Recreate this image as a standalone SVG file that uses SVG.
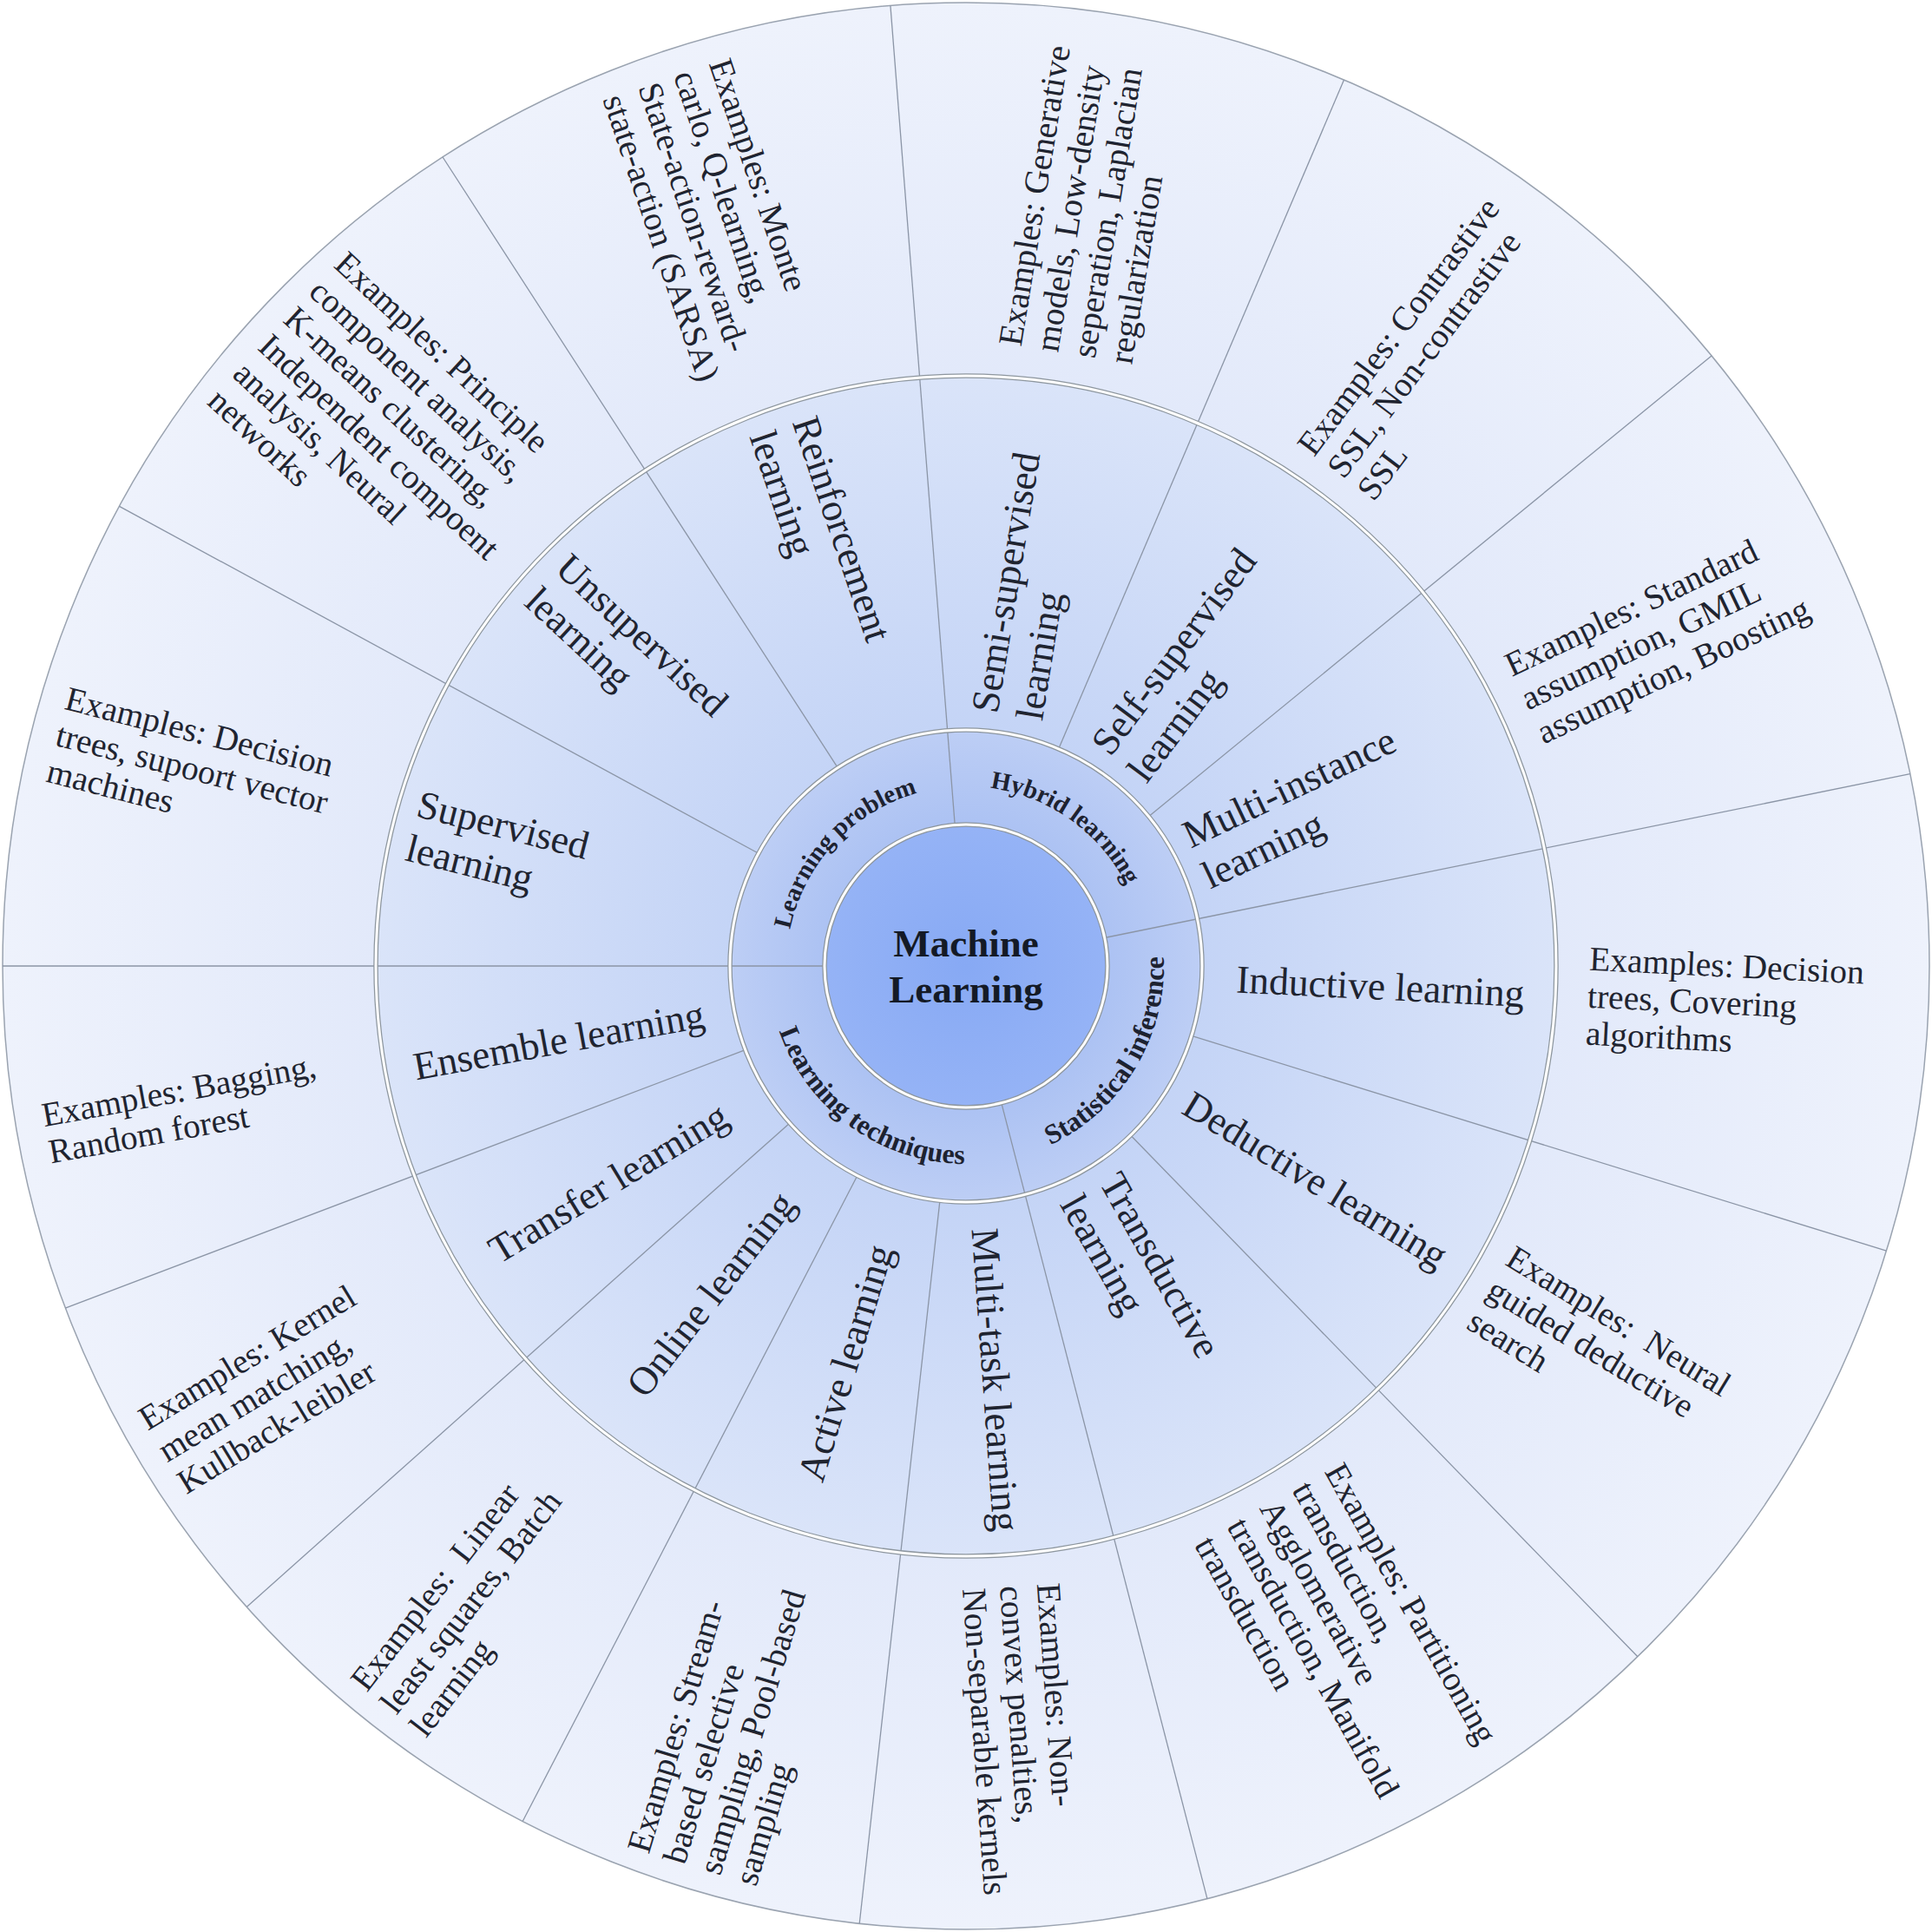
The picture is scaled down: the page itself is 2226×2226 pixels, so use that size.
<svg xmlns="http://www.w3.org/2000/svg" width="2226" height="2226" viewBox="0 0 2226 2226">
<defs>
  <radialGradient id="gOuter" gradientUnits="userSpaceOnUse" cx="1113" cy="1113" r="1110">
    <stop offset="0.61" stop-color="#E2E9FA"/>
    <stop offset="1" stop-color="#EEF2FC"/>
  </radialGradient>
  <radialGradient id="gMid" gradientUnits="userSpaceOnUse" cx="1113" cy="1113" r="680">
    <stop offset="0.4" stop-color="#C4D4F6"/>
    <stop offset="1" stop-color="#DAE4F9"/>
  </radialGradient>
  <radialGradient id="gInner" gradientUnits="userSpaceOnUse" cx="1113" cy="1113" r="272">
    <stop offset="0.6" stop-color="#ACC2F3"/>
    <stop offset="1" stop-color="#BDCEF5"/>
  </radialGradient>
  <radialGradient id="gCore" gradientUnits="userSpaceOnUse" cx="1113" cy="1113" r="163">
    <stop offset="0" stop-color="#87A9F4"/>
    <stop offset="1" stop-color="#95B3F6"/>
  </radialGradient>
  <path id="arcLP" d="M 915.05 1173.52 A 207 207 0 0 1 1159.56 911.31"/>
  <path id="arcHY" d="M 1027.16 924.64 A 207 207 0 0 1 1319.05 1132.84"/>
  <path id="arcSI" d="M 1109.02 1340.97 A 228 228 0 0 0 1312.41 1002.46"/>
  <path id="arcLT" d="M 886.09 1090.75 A 228 228 0 0 0 1207.19 1320.63"/>
</defs>
<style>
  .sep{stroke:#8b95a6;stroke-width:1.3;fill:none}
  .band{fill:none;stroke:#8d969e;stroke-width:5.5}
  .bandw{fill:none;stroke:#ffffff;stroke-width:3}
  .lbl{font-family:"Liberation Serif","Times New Roman",serif;font-size:45.5px;fill:#1f2430}
  .ex{font-family:"Liberation Serif","Times New Roman",serif;font-size:39.5px;fill:#1f2430}
  .cat{font-family:"Liberation Serif","Times New Roman",serif;font-weight:bold;fill:#1d2230}
  .top{font-size:29px}
  .bot{font-size:32px}
  .title{font-family:"Liberation Serif","Times New Roman",serif;font-weight:bold;font-size:45px;fill:#141a26;text-anchor:middle}
  .mid{text-anchor:middle}
</style>
<rect x="0" y="0" width="2226" height="2226" fill="#ffffff"/>

<g id="rings">
  <circle cx="1113" cy="1113" r="1110" fill="url(#gOuter)" stroke="#9aa3b0" stroke-width="1.5"/>
  <circle cx="1113" cy="1113" r="680" fill="url(#gMid)"/>
  <circle cx="1113" cy="1113" r="272" fill="url(#gInner)"/>
  <circle cx="1113" cy="1113" r="163" fill="url(#gCore)"/>
</g>

<g id="connectors">
  <line class="sep" x1="950" y1="1113" x2="3" y2="1113"/>
  <line class="sep" x1="873.96" y1="983.21" x2="137.51" y2="583.35"/>
  <line class="sep" x1="965.26" y1="884.62" x2="510.07" y2="181.02"/>
  <line class="sep" x1="1100.21" y1="950.50" x2="1025.91" y2="6.42"/>
  <line class="sep" x1="1219.72" y1="862.81" x2="1548.50" y2="92.00"/>
  <line class="sep" x1="1323.49" y1="940.72" x2="1971.97" y2="409.94"/>
  <line class="sep" x1="1272.73" y1="1080.50" x2="2200.71" y2="891.70"/>
  <line class="sep" x1="1372.84" y1="1193.43" x2="2173.36" y2="1441.24"/>
  <line class="sep" x1="1302.63" y1="1308.00" x2="1886.86" y2="1908.77"/>
  <line class="sep" x1="1153.81" y1="1270.81" x2="1390.92" y2="2187.65"/>
  <line class="sep" x1="1082.92" y1="1383.33" x2="990.23" y2="2216.20"/>
  <line class="sep" x1="987.83" y1="1354.49" x2="602.19" y2="2098.48"/>
  <line class="sep" x1="909.91" y1="1293.95" x2="284.23" y2="1851.42"/>
  <line class="sep" x1="858.73" y1="1209.59" x2="75.34" y2="1507.17"/>
</g>

<g id="ring-borders">
  <circle class="band" cx="1113" cy="1113" r="680"/>
  <circle class="bandw" cx="1113" cy="1113" r="680"/>
  <circle class="band" cx="1113" cy="1113" r="272"/>
  <circle class="bandw" cx="1113" cy="1113" r="272"/>
  <circle class="band" cx="1113" cy="1113" r="163"/>
  <circle class="bandw" cx="1113" cy="1113" r="163"/>
</g>

<g id="node-machine-learning">
  <text class="title" x="1113" y="1102">Machine</text>
  <text class="title" x="1113" y="1155">Learning</text>
</g>

<g id="cat-learning-problem"><text class="cat top"><textPath href="#arcLP" startOffset="50%" text-anchor="middle">Learning problem</textPath></text></g>
<g id="cat-hybrid-learning"><text class="cat top"><textPath href="#arcHY" startOffset="50%" text-anchor="middle">Hybrid learning</textPath></text></g>
<g id="cat-statistical-inference"><text class="cat bot"><textPath href="#arcSI" startOffset="50%" text-anchor="middle">Statistical inference</textPath></text></g>
<g id="cat-learning-techniques"><text class="cat bot"><textPath href="#arcLT" startOffset="50%" text-anchor="middle">Learning techniques</textPath></text></g>

<g id="sub-supervised" transform="rotate(14.25 1113 1113)"><text class="lbl"><tspan x="455" y="1102">Supervised</tspan><tspan x="455" y="1154">learning</tspan></text></g>
<g id="sub-unsupervised" transform="rotate(42.8 1113 1113)"><text class="lbl"><tspan x="455" y="1102">Unsupervised</tspan><tspan x="455" y="1154">learning</tspan></text></g>
<g id="sub-reinforcement" transform="rotate(71.3 1113 1113)"><text class="lbl"><tspan x="455" y="1102">Reinforcement</tspan><tspan x="455" y="1154">learning</tspan></text></g>
<g id="sub-semi-supervised" transform="rotate(-80.7 1113 1113)"><text class="lbl"><tspan x="1405" y="1102">Semi-supervised</tspan><tspan x="1405" y="1154">learning</tspan></text></g>
<g id="sub-self-supervised" transform="rotate(-53.1 1113 1113)"><text class="lbl"><tspan x="1405" y="1102">Self-supervised</tspan><tspan x="1405" y="1154">learning</tspan></text></g>
<g id="sub-multi-instance" transform="rotate(-25.4 1113 1113)"><text class="lbl"><tspan x="1405" y="1102">Multi-instance</tspan><tspan x="1405" y="1154">learning</tspan></text></g>
<g id="sub-inductive" transform="rotate(2.85 1113 1113)"><text class="lbl mid" x="1591" y="1128">Inductive learning</text></g>
<g id="sub-deductive" transform="rotate(31.5 1113 1113)"><text class="lbl mid" x="1585" y="1128">Deductive learning</text></g>
<g id="sub-transductive" transform="rotate(60.65 1113 1113)"><text class="lbl"><tspan x="1405" y="1102">Transductive</tspan><tspan x="1405" y="1154">learning</tspan></text></g>
<g id="sub-multi-task" transform="rotate(85.925 1113 1113)"><text class="lbl mid" x="1591" y="1128">Multi-task learning</text></g>
<g id="sub-active" transform="rotate(-73.125 1113 1113)"><text class="lbl mid" x="635" y="1128">Active learning</text></g>
<g id="sub-online" transform="rotate(-52.15 1113 1113)"><text class="lbl mid" x="634" y="1128">Online learning</text></g>
<g id="sub-transfer" transform="rotate(-31.25 1113 1113)"><text class="lbl mid" x="631" y="1128">Transfer learning</text></g>
<g id="sub-ensemble" transform="rotate(-10.4 1113 1113)"><text class="lbl mid" x="636" y="1128">Ensemble learning</text></g>

<g id="ex-supervised" transform="rotate(14.25 1113 1113)"><text class="ex"><tspan x="32" y="1082">Examples: Decision</tspan><tspan x="32" y="1125">trees, supoort vector</tspan><tspan x="32" y="1168">machines</tspan></text></g>
<g id="ex-unsupervised" transform="rotate(42.8 1113 1113)"><text class="ex"><tspan x="30" y="1017.5">Examples: Principle</tspan><tspan x="30" y="1060.5">component analysis,</tspan><tspan x="30" y="1103.5">K-means clustering,</tspan><tspan x="30" y="1146.5">Independent compoent</tspan><tspan x="30" y="1189.5">analysis, Neural</tspan><tspan x="30" y="1232.5">networks</tspan></text></g>
<g id="ex-reinforcement" transform="rotate(71.3 1113 1113)"><text class="ex"><tspan x="33" y="1060.5">Examples: Monte</tspan><tspan x="33" y="1103.5">carlo, Q-learning,</tspan><tspan x="33" y="1146.5">State-action-reward-</tspan><tspan x="33" y="1189.5">state-action (SARSA)</tspan></text></g>
<g id="ex-semi-supervised" transform="rotate(-80.7 1113 1113)"><text class="ex"><tspan x="1827" y="1060.5">Examples: Generative</tspan><tspan x="1827" y="1103.5">models, Low-density</tspan><tspan x="1827" y="1146.5">seperation, Laplacian</tspan><tspan x="1827" y="1189.5">regularization</tspan></text></g>
<g id="ex-self-supervised" transform="rotate(-53.1 1113 1113)"><text class="ex"><tspan x="1822" y="1082">Examples: Contrastive</tspan><tspan x="1822" y="1125">SSL, Non-contrastive</tspan><tspan x="1822" y="1168">SSL</tspan></text></g>
<g id="ex-multi-instance" transform="rotate(-25.4 1113 1113)"><text class="ex"><tspan x="1824" y="1082">Examples: Standard</tspan><tspan x="1824" y="1125">assumption, GMIL</tspan><tspan x="1824" y="1168">assumption, Boosting</tspan></text></g>
<g id="ex-inductive" transform="rotate(2.85 1113 1113)"><text class="ex"><tspan x="1830" y="1082">Examples: Decision</tspan><tspan x="1830" y="1125">trees, Covering</tspan><tspan x="1830" y="1168">algorithms</tspan></text></g>
<g id="ex-deductive" transform="rotate(31.5 1113 1113)"><text class="ex"><tspan x="1821" y="1082">Examples:&#160; Neural</tspan><tspan x="1821" y="1125">guided deductive</tspan><tspan x="1821" y="1168">search</tspan></text></g>
<g id="ex-transductive" transform="rotate(60.65 1113 1113)"><text class="ex"><tspan x="1823" y="1039">Examples: Partitioning</tspan><tspan x="1823" y="1082">transduction,</tspan><tspan x="1823" y="1125">Agglomerative</tspan><tspan x="1823" y="1168">transduction, Manifold</tspan><tspan x="1823" y="1211">transduction</tspan></text></g>
<g id="ex-multi-task" transform="rotate(85.925 1113 1113)"><text class="ex"><tspan x="1829" y="1082">Examples: Non-</tspan><tspan x="1829" y="1125">convex penalties,</tspan><tspan x="1829" y="1168">Non-separable kernels</tspan></text></g>
<g id="ex-active" transform="rotate(-73.125 1113 1113)"><text class="ex"><tspan x="27" y="1060.5">Examples: Stream-</tspan><tspan x="27" y="1103.5">based selective</tspan><tspan x="27" y="1146.5">sampling, Pool-based</tspan><tspan x="27" y="1189.5">sampling</tspan></text></g>
<g id="ex-online" transform="rotate(-52.15 1113 1113)"><text class="ex"><tspan x="28" y="1082">Examples:&#160; Linear</tspan><tspan x="28" y="1125">least squares, Batch</tspan><tspan x="28" y="1168">learning</tspan></text></g>
<g id="ex-transfer" transform="rotate(-31.25 1113 1113)"><text class="ex"><tspan x="29" y="1082">Examples: Kernel</tspan><tspan x="29" y="1125">mean matching,</tspan><tspan x="29" y="1168">Kullback-leibler</tspan></text></g>
<g id="ex-ensemble" transform="rotate(-10.4 1113 1113)"><text class="ex"><tspan x="35" y="1103.5">Examples: Bagging,</tspan><tspan x="35" y="1146.5">Random forest</tspan></text></g>
</svg>
